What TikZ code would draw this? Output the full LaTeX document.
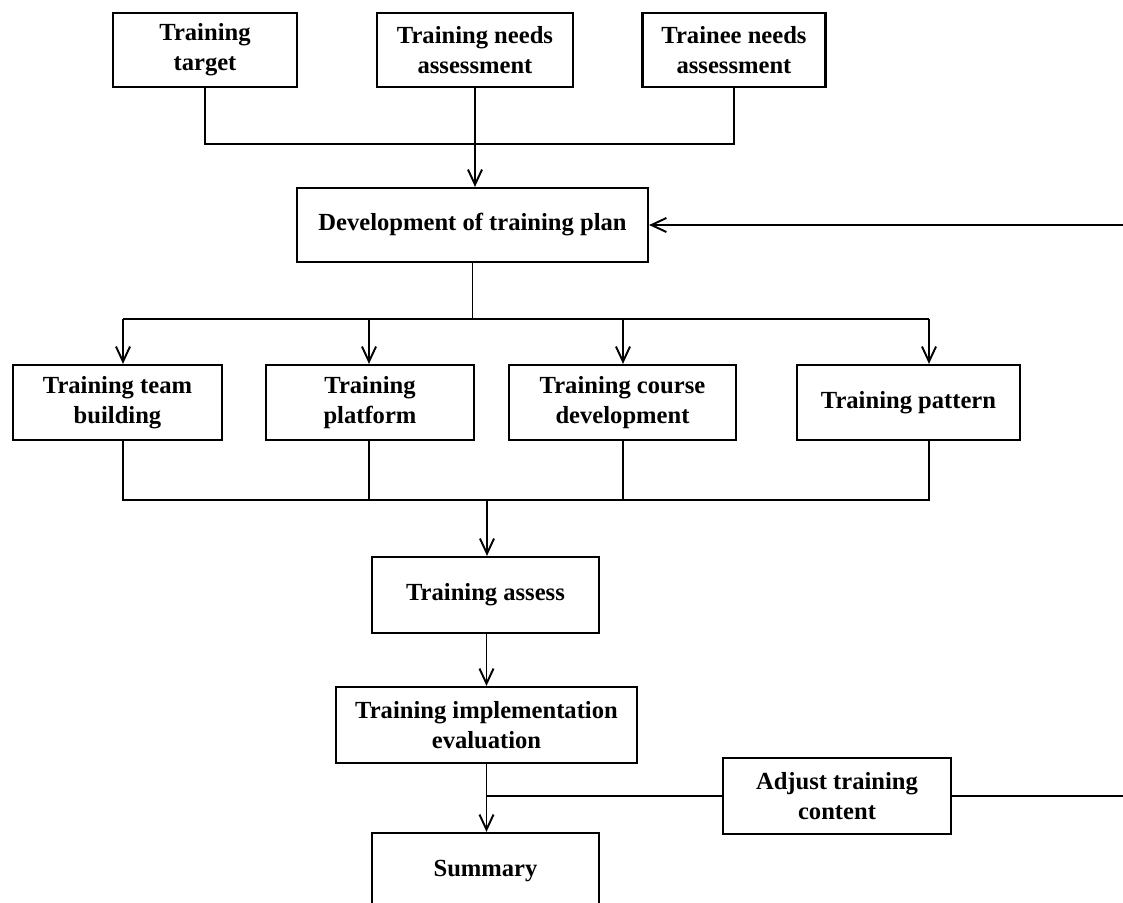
\documentclass[tikz,border=0pt]{standalone}
\usepackage{fontspec}
\setmainfont{Liberation Serif}
\usetikzlibrary{arrows.meta}

\begin{document}
\begin{tikzpicture}[x=0.02cm, y=-0.02cm,
    box/.style={draw, line width=1.3pt, align=center, inner sep=0pt,
        font=\bfseries\fontsize{14}{17}\selectfont},
    link/.style={line width=1.1pt},
    arr/.style={link, -{Straight Barb[length=3mm, width=2.8mm]}}]
    \useasboundingbox (0,0) rectangle (1123,903);
    \clip (0,0) rectangle (1123,903);

    % sources of the plan
    \node[box, minimum width=3.68cm, minimum height=1.48cm] (target) at (205,50) {Training\\target};
    \node[box, minimum width=3.92cm, minimum height=1.48cm] (needs) at (475,50) {Training needs\\assessment};
    \node[box, minimum width=3.66cm, minimum height=1.48cm] (trainee) at (734,50) {Trainee needs\\assessment};

    % the plan
    \node[box, minimum width=7.02cm, minimum height=1.48cm] (plan) at (472.5,225) {Development of training plan};

    % parts of the plan
    \node[box, minimum width=4.18cm, minimum height=1.5cm] (team) at (117.5,402.5) {Training team\\building};
    \node[box, minimum width=4.16cm, minimum height=1.5cm] (platform) at (370,402.5) {Training\\platform};
    \node[box, minimum width=4.54cm, minimum height=1.5cm] (course) at (622.5,402.5) {Training course\\development};
    \node[box, minimum width=4.46cm, minimum height=1.5cm] (pattern) at (908.5,402.5) {Training pattern};

    % assessment chain
    \node[box, minimum width=4.54cm, minimum height=1.52cm] (assess) at (485.5,595) {Training assess};
    \node[box, minimum width=6.02cm, minimum height=1.52cm] (impl) at (486.5,725) {Training implementation\\evaluation};
    \node[box, minimum width=4.54cm, minimum height=1.52cm] (summary) at (485.5,871) {Summary};
    \node[box, minimum width=4.56cm, minimum height=1.52cm] (adjust) at (837,796) {Adjust training\\content};

    % junction points
    \coordinate (t1) at (205,144);
    \coordinate (s1) at (123,319);
    \coordinate (s2) at (369,319);
    \coordinate (s3) at (623,319);
    \coordinate (s4) at (929,319);
    \coordinate (c1) at (123,500);
    \coordinate (c4) at (929,500);
    \coordinate (cm) at (487,500);
    \coordinate (branch) at (486,796);
    \coordinate (fbr) at (1150,796);
    \coordinate (fbt) at (1150,225);

    % into the plan
    \draw[link] (target.south) -- (t1) -- (trainee.south |- t1) -- (trainee.south);
    \draw[arr] (needs.south) -- (needs.south |- plan.north);

    % out of the plan
    \draw[link] (plan.south) -- (plan.south |- s1);
    \draw[link] (s1) -- (s4);
    \draw[arr] (s1) -- (s1 |- team.north);
    \draw[arr] (s2) -- (s2 |- platform.north);
    \draw[arr] (s3) -- (s3 |- course.north);
    \draw[arr] (s4) -- (s4 |- pattern.north);

    % collected into the assessment
    \draw[link] (team.south -| c1) -- (c1) -- (c4) -- (pattern.south -| c4);
    \draw[link] (platform.south -| s2) -- (s2 |- c1);
    \draw[link] (course.south -| s3) -- (s3 |- c1);
    \draw[arr] (cm) -- (cm |- assess.north);
    \draw[arr] (assess.south -| impl.south) -- (impl.north);
    \draw[arr] (impl.south) -- (impl.south |- summary.north);

    % feedback loop
    \draw[link] (branch) -- (adjust.west);
    \draw[arr] (adjust.east) -- (fbr) -- (fbt) -- (plan.east);
\end{tikzpicture}
\end{document}
